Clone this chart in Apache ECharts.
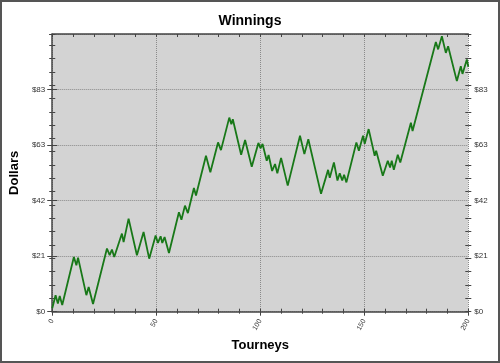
<!DOCTYPE html>
<html>
<head>
<meta charset="utf-8">
<script src="https://cdn.jsdelivr.net/npm/echarts@6/dist/echarts.min.js"></script>
<style>
html,body{margin:0;padding:0;background:#fff;}
#c{width:500px;height:363px;}
</style>
</head>
<body>
<div id="c"></div>
<script>
// Data (vertices of the line)
var tourneys = [0,1.6,2.7,3.6,4.8,10.4,11.6,12.4,16.4,17.5,19.6,26.3,27.6,28.7,29.8,33.5,34.3,36.7,40.7,43.9,46.6,
  49.7,50.8,52.1,52.9,54,56.1,60.9,62.1,63.8,65.2,68.1,69.1,73.9,76,79.7,81.1,85.1,86.1,86.8,90.8,92.7,95.9,
  99.1,100.1,101.1,103.1,104.0,105.7,107.1,108.2,110,113.2,119.1,121.2,123.1,129.2,132.6,133.4,135.4,137.1,138.2,
  139.4,140.3,141.4,146.2,147.4,149.4,150.2,152.1,155,155.7,158.9,161.3,162.4,163.2,164.2,166.1,167.3,172.4,173.2,
  184.4,185.5,187.3,189.2,190.3,194.5,196.4,197.2,199.3,200];
var dollars = [1.3,6.2,3.1,5.9,2.5,20.5,17.4,20.3,6.2,9.3,2.9,23.7,21.2,23.3,20.5,29.3,26.1,34.9,21.2,29.9,19.9,
  28.6,25.8,28.3,25.8,28,22.0,37.3,34.5,39.8,37,46.4,43.6,58.5,52.3,63.5,60.6,72.8,70.3,72.2,58.9,64.4,54.4,
  63.3,61.3,62.9,56.6,58.8,52.8,55.4,51.9,57.7,47.3,66,59.1,64.7,44.2,53.2,50.2,56,49.2,51.9,
  49.2,51.4,48.5,63.5,60.4,66,63,68.5,58.5,60.4,51,56.6,54.1,56.6,53.2,58.9,56,70.9,67.8,
  101.2,98.4,103.3,97.1,99.6,86.5,92.1,89.2,94.6,91.9];
var xTickLabels = [0,50,100,150,200];
var yMax = 125/1.2;          // top of the dollar scale
var yStep = yMax/5;          // labelled steps ($21, $42, $63, $83)
var yMinorStep = 5;          // small ticks every $5
var xMinorStep = 10;

var FONT = 'Liberation Sans, Arial, sans-serif';
var points = tourneys.map(function(t,i){return [t, dollars[i]];});

function yAx(o){
  return Object.assign({type:'value',min:0,max:yMax,gridIndex:0,
    axisLabel:{show:false},splitLine:{show:false},axisLine:{show:false}}, o);
}
function xAx(o){
  return Object.assign({type:'value',min:0,max:200,gridIndex:0,
    axisLabel:{show:false},splitLine:{show:false},axisLine:{show:false}}, o);
}
var tickStyle = {color:'#444',width:1};

var chart = echarts.init(document.getElementById('c'),null,{renderer:'canvas'});
chart.setOption({
  animation:false,
  backgroundColor:'#fff',
  textStyle:{fontFamily:FONT},
  title:{text:'Winnings',left:'center',top:9,
    textStyle:{fontFamily:FONT,fontSize:14,fontWeight:'bold',color:'#000'}},
  grid:{left:50,right:31.7,top:34,bottom:51.3,show:true,backgroundColor:'#d3d3d3',borderWidth:0},
  graphic:[{type:'rect',shape:{x:1,y:1,width:498,height:361},
    style:{fill:'none',stroke:'#555',lineWidth:2},silent:true,z:100}],
  xAxis:[
    xAx({position:'bottom',interval:50,
      name:'Tourneys',nameLocation:'middle',nameGap:27,
      nameTextStyle:{fontFamily:FONT,fontSize:13,fontWeight:'bold',color:'#000'},
      axisLine:{show:true,onZero:false,lineStyle:{color:'#444',width:1.5}},
      axisTick:{show:true,length:4,lineStyle:tickStyle},
      axisLabel:{show:true,rotate:60,fontSize:7,color:'#333',margin:8,fontFamily:FONT,
        formatter:function(v){return xTickLabels.indexOf(v)>=0?String(v):'';}},
      splitLine:{show:true,lineStyle:{color:'#8a8a8a',type:'dotted',width:1}}}),
    xAx({position:'bottom',interval:xMinorStep,axisTick:{show:true,inside:true,length:3,lineStyle:tickStyle}}),
    xAx({position:'bottom',interval:xMinorStep,axisTick:{show:true,length:2,lineStyle:tickStyle}}),
    xAx({position:'top',interval:xMinorStep,
      axisLine:{show:true,onZero:false,lineStyle:{color:'#444',width:1.5}},
      axisTick:{show:true,inside:true,length:3,lineStyle:tickStyle}})
  ],
  yAxis:[
    yAx({position:'left',interval:yStep,
      name:'Dollars',nameLocation:'middle',nameGap:25,nameRotate:90,
      nameTextStyle:{fontFamily:FONT,fontSize:13,fontWeight:'bold',color:'#000'},
      axisLine:{show:true,onZero:false,lineStyle:{color:'#444',width:1.5}},
      axisTick:{show:true,length:5,lineStyle:tickStyle},
      axisLabel:{show:true,fontSize:8,color:'#333',margin:7,showMaxLabel:false,fontFamily:FONT,
        formatter:function(v){return '$'+Math.round(v);}},
      splitLine:{show:true,lineStyle:{color:'#8a8a8a',type:'dotted',width:1}}}),
    yAx({position:'right',interval:yStep,
      axisTick:{show:true,length:5,lineStyle:tickStyle},
      axisLabel:{show:true,fontSize:8,color:'#333',margin:6,showMaxLabel:false,fontFamily:FONT,
        formatter:function(v){return '$'+Math.round(v);}}}),
    yAx({position:'left',interval:yStep,axisTick:{show:true,inside:true,length:3,lineStyle:tickStyle}}),
    yAx({position:'right',interval:yStep,axisTick:{show:true,inside:true,length:3,lineStyle:tickStyle}}),
    yAx({position:'left',interval:yMinorStep,axisTick:{show:true,length:3,lineStyle:tickStyle}}),
    yAx({position:'left',interval:yMinorStep,axisTick:{show:true,inside:true,length:3,lineStyle:tickStyle}}),
    yAx({position:'right',interval:yMinorStep,axisTick:{show:true,length:3,lineStyle:tickStyle}}),
    yAx({position:'right',interval:yMinorStep,axisTick:{show:true,inside:true,length:3,lineStyle:tickStyle}})
  ],
  series:[{type:'line',xAxisIndex:0,yAxisIndex:0,data:points,showSymbol:false,
    lineStyle:{color:'#187818',width:1.8},clip:true}]
});
</script>
</body>
</html>
